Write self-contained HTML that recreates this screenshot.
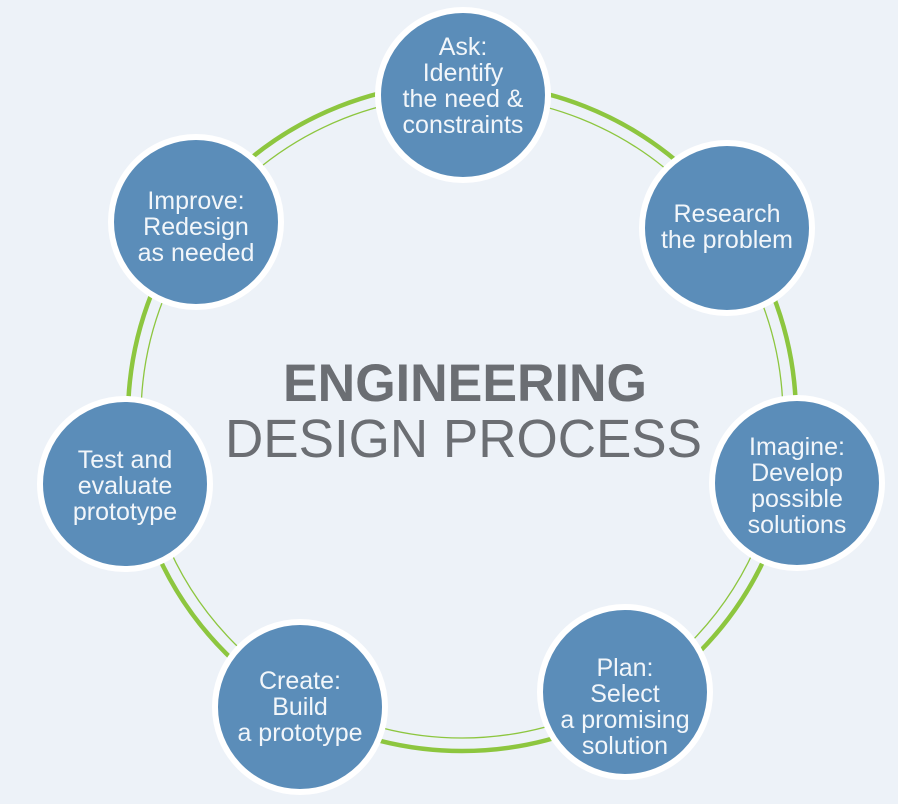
<!DOCTYPE html>
<html><head><meta charset="utf-8"><style>
html,body{margin:0;padding:0;background:#edf2f8;}
svg{display:block}
.t{font-family:"Liberation Sans",sans-serif;font-size:25px;fill:#f2f6fa;text-anchor:middle}
</style></head><body>
<svg width="898" height="804" viewBox="0 0 898 804">
<rect width="898" height="804" fill="#edf2f8"/>
<circle cx="462" cy="417" r="334" fill="none" stroke="#8dc63f" stroke-width="4.5"/>
<circle cx="462" cy="417" r="321" fill="none" stroke="#8dc63f" stroke-width="1.3"/>
<g fill="#5b8db9" stroke="#ffffff" stroke-width="6">
<circle cx="463" cy="95" r="85"/>
<circle cx="727" cy="228" r="85"/>
<circle cx="797" cy="483" r="85"/>
<circle cx="625" cy="692" r="85"/>
<circle cx="300" cy="707" r="85"/>
<circle cx="125" cy="484" r="85"/>
<circle cx="196" cy="222" r="85"/>
</g>
<text class="t"><tspan x="463" y="55">Ask:</tspan><tspan x="463" y="81">Identify</tspan><tspan x="463" y="107">the need &amp;</tspan><tspan x="463" y="133">constraints</tspan></text>
<text class="t"><tspan x="727" y="222">Research</tspan><tspan x="727" y="248">the problem</tspan></text>
<text class="t"><tspan x="797" y="455">Imagine:</tspan><tspan x="797" y="481">Develop</tspan><tspan x="797" y="507">possible</tspan><tspan x="797" y="533">solutions</tspan></text>
<text class="t"><tspan x="625" y="676">Plan:</tspan><tspan x="625" y="702">Select</tspan><tspan x="625" y="728">a promising</tspan><tspan x="625" y="754">solution</tspan></text>
<text class="t"><tspan x="300" y="689">Create:</tspan><tspan x="300" y="715">Build</tspan><tspan x="300" y="741">a prototype</tspan></text>
<text class="t"><tspan x="125" y="468">Test and</tspan><tspan x="125" y="494">evaluate</tspan><tspan x="125" y="520">prototype</tspan></text>
<text class="t"><tspan x="196" y="209">Improve:</tspan><tspan x="196" y="235">Redesign</tspan><tspan x="196" y="261">as needed</tspan></text>
<text x="283" y="401" textLength="364" lengthAdjust="spacingAndGlyphs" font-family="Liberation Sans, sans-serif" font-weight="bold" font-size="53" fill="#6b6e73">ENGINEERING</text>
<text x="225" y="457" textLength="477" lengthAdjust="spacingAndGlyphs" font-family="Liberation Sans, sans-serif" font-size="54" fill="#6b6e73">DESIGN PROCESS</text>
</svg>
</body></html>
